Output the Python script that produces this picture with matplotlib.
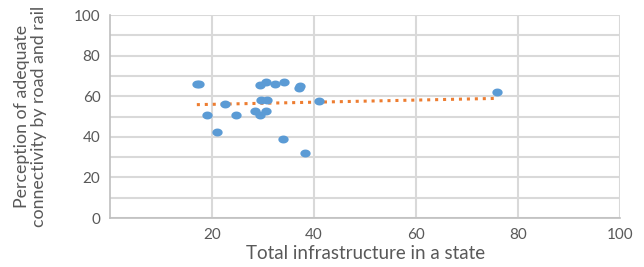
import numpy as np
import matplotlib
matplotlib.use("Agg")
import matplotlib.pyplot as plt
from matplotlib.path import Path

x_vals = [17.0, 17.4, 19.0, 20.9, 22.6, 24.6, 28.5, 29.3, 30.5, 29.3, 30.5, 32.4, 34.1,
          29.5, 30.8, 37.0, 37.3, 33.9, 38.3, 40.9, 75.8]
y_vals = [66.0, 66.0, 50.6, 42.5, 56.0, 50.6, 52.7, 50.6, 52.7, 65.4, 66.8, 66.0, 66.8,
          58.3, 58.3, 64.0, 65.0, 39.1, 31.9, 57.8, 61.9]
x_ticks = [20, 40, 60, 80, 100]
y_ticks = [0, 20, 40, 60, 80, 100]

plt.rcParams['font.family'] = ['Lato', 'DejaVu Sans']
txt = '#595959'

fig = plt.figure(figsize=(6.44, 2.67), dpi=100)
ax = fig.add_axes([0.171, 0.1835, 0.792, 0.76])

t = np.linspace(0, 2*np.pi, 60)
ell = Path(np.column_stack([1.3*np.cos(t), np.sin(t)]), closed=True)
ax.scatter(x_vals, y_vals, marker=ell, s=55, color='#5B9BD5', zorder=3, linewidths=0)

m, b = np.polyfit(x_vals, y_vals, 1)
xs = np.array([min(x_vals), max(x_vals)])
ax.plot(xs, m*xs + b, linestyle=(0, (1, 1.6)), color='#ED7D31', lw=2.2, zorder=2)

ax.set_xlim(0, 100)
ax.set_ylim(0, 100)
ax.set_xticks(x_ticks)
ax.set_yticks(y_ticks)
ax.set_yticks(np.arange(0, 101, 10), minor=True)
ax.grid(True, which='both', axis='y', color='#D9D9D9', lw=1.5)
ax.grid(True, which='major', axis='x', color='#D9D9D9', lw=1.5)
ax.set_axisbelow(True)
for s in ['top', 'right']:
    ax.spines[s].set_visible(False)
for s in ['left', 'bottom']:
    ax.spines[s].set_color('#BFBFBF')
    ax.spines[s].set_linewidth(1.2)
ax.tick_params(which='both', length=0, colors=txt, labelsize=11, pad=7)
ax.set_xlabel('Total infrastructure in a state', color=txt, fontsize=13.5, labelpad=2)
ax.set_ylabel('Perception of adequate\nconnectivity by road and rail', color=txt,
              fontsize=12.8, linespacing=1.1)
ax.yaxis.set_label_coords(-0.123, 0.5)

fig.savefig('out.png', dpi=100)
